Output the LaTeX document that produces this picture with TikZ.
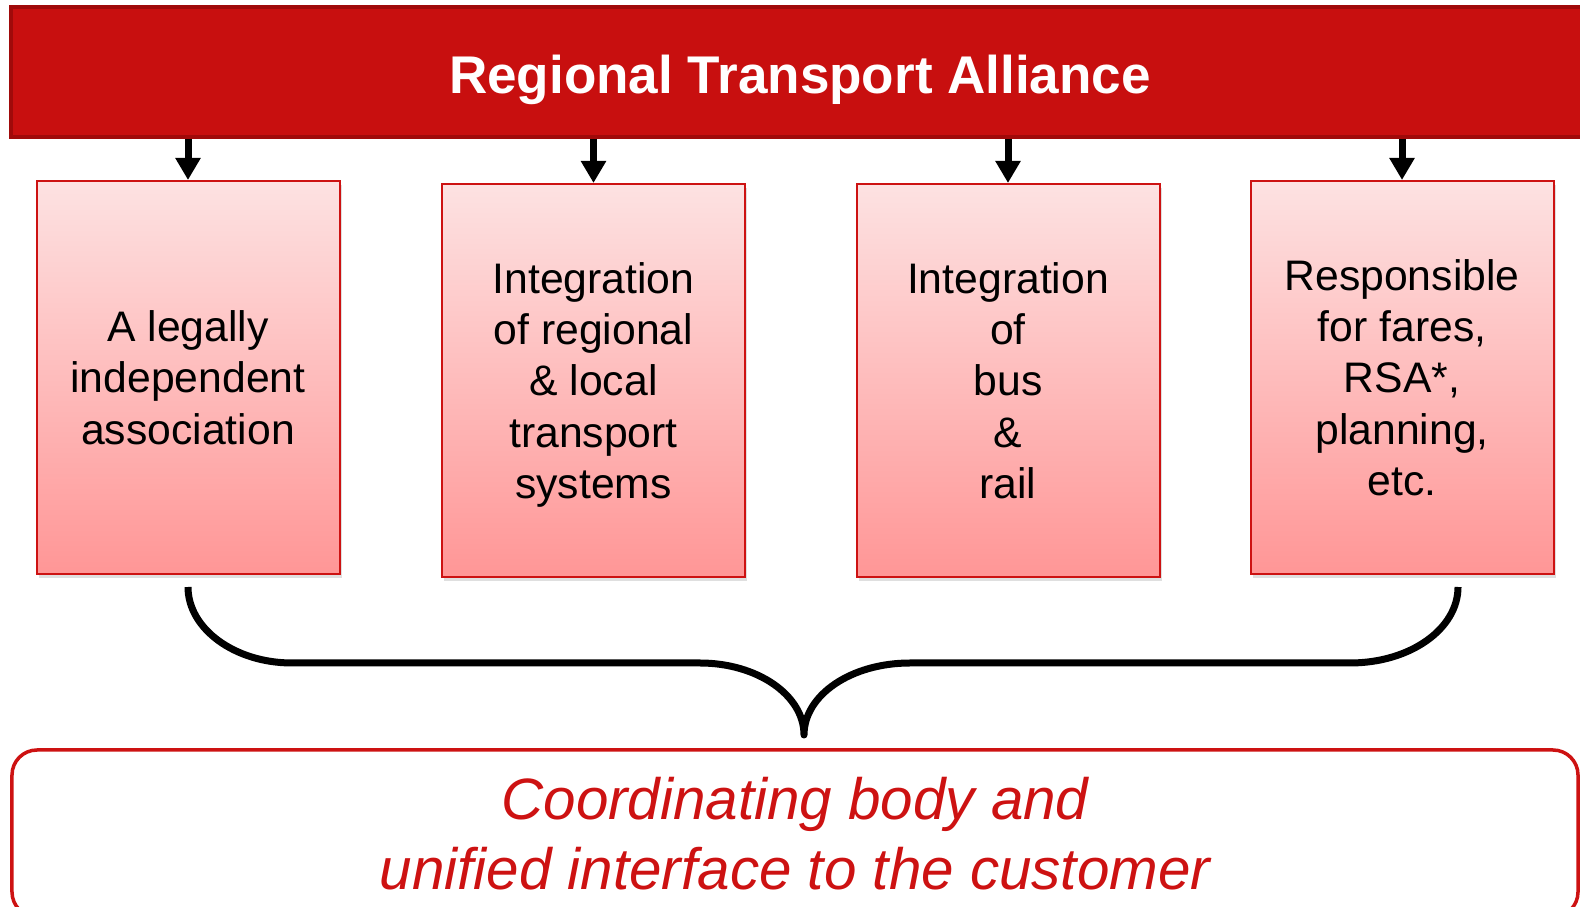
\documentclass[tikz,border=0pt]{standalone}
\usepackage{fontspec}
\setmainfont{Liberation Sans}
\usetikzlibrary{arrows.meta,shadows}

\definecolor{barred}{RGB}{200,15,15}
\definecolor{bardark}{RGB}{160,10,10}
\definecolor{boxred}{RGB}{205,18,18}
\definecolor{boxtop}{RGB}{253,226,226}
\definecolor{boxbottom}{RGB}{255,150,150}

\begin{document}
\begin{tikzpicture}[
        bar/.style={rectangle, draw=bardark, fill=barred, line width=0.04cm, minimum width=15.78cm, minimum height=1.30cm, inner sep=0pt, text height=12.2pt, text depth=0pt, text=white, font=\bfseries\fontsize{15.1}{18}\selectfont},
        task box/.style={rectangle, draw=boxred, line width=0.02cm, top color=boxtop, bottom color=boxbottom, minimum width=3.03cm, minimum height=3.93cm, inner sep=0pt, text depth=0pt, align=center, font=\fontsize{12.15}{14.6}\selectfont, drop shadow={shadow xshift=0.02cm, shadow yshift=-0.04cm, opacity=0.25}},
        summary box/.style={rectangle, draw=boxred, line width=0.035cm, rounded corners=0.25cm, minimum width=15.66cm, minimum height=1.67cm, inner sep=0pt, align=center, text=boxred, font=\itshape\fontsize{16.6}{20.1}\selectfont},
        down arrow/.style={line width=0.07cm, -{Triangle[width=0.24cm,length=0.22cm]}},
        brace line/.style={line width=0.07cm, line join=round},
    ]
    \useasboundingbox (0,0) rectangle (15.8,9.07);

    \node[bar] (alliance) at (8.0,8.35) {Regional Transport Alliance};

    \node[task box] (legal) at (1.88,5.295) {A legally\\independent\\association};
    \node[task box] (integration) at (5.935,5.265) {Integration\\of regional\\\& local\\transport\\systems};
    \node[task box] (busrail) at (10.08,5.265) {Integration\\of\\bus\\\&\\rail};
    \node[task box] (fares) at (14.02,5.295) {Responsible\\for fares,\\RSA*,\\planning,\\etc.};

    \node[summary box] (summary) at (7.95,0.735) {Coordinating body and\\unified interface to the customer};

    \draw[down arrow] (alliance.south -| legal) -- (legal.north);
    \draw[down arrow] (alliance.south -| integration) -- (integration.north);
    \draw[down arrow] (alliance.south -| busrail) -- (busrail.north);
    \draw[down arrow] (alliance.south -| fares) -- (fares.north);

    \coordinate (brace left) at (1.88,3.20);
    \coordinate (brace right) at (14.58,3.20);
    \coordinate (brace tip) at (8.04,1.72);

    \draw[brace line] (brace left) .. controls (1.88,2.78) and (2.35,2.44) .. (2.92,2.44)
        -- (7.00,2.44) .. controls (7.57,2.44) and (8.04,2.12) .. (brace tip)
        .. controls (8.04,2.12) and (8.51,2.44) .. (9.10,2.44)
        -- (13.50,2.44) .. controls (14.10,2.44) and (14.58,2.78) .. (brace right);
\end{tikzpicture}
\end{document}
